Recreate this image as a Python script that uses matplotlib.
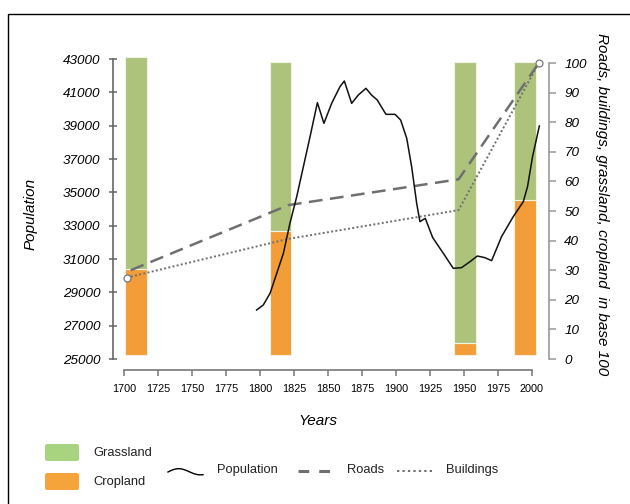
import numpy as np
import matplotlib
matplotlib.use("Agg")
import matplotlib.pyplot as plt
from matplotlib.patches import Rectangle, FancyBboxPatch
from matplotlib.lines import Line2D

plt.rcParams['font.family'] = ['Liberation Sans', 'DejaVu Sans']

# ---------------- data ----------------
bar_years = [1709, 1815, 1951, 1995]
cropland = [29.0, 41.8, 4.2, 52.4]
grassland = [71.6, 57.2, 95.0, 46.7]

roads_years = [1705, 1821, 1946, 2005]
roads = [30.0, 52.0, 60.7, 100.0]

buildings_years = [1702, 1820, 1946, 2005]
buildings = [27.5, 40.5, 50.3, 100.0]

pop_years = [1797.5, 1802.4, 1807.4, 1812.3, 1817.2, 1822.0, 1827.0, 1831.9,
             1836.8, 1842.2, 1847.0, 1852.7, 1858.8, 1862.0, 1867.4, 1872.3,
             1877.9, 1882.0, 1886.2, 1892.6, 1899.3, 1903.4, 1907.9, 1911.5,
             1915.2, 1917.6, 1921.5, 1927.0, 1934.8, 1942.1, 1948.2, 1954.4,
             1959.8, 1965.4, 1970.3, 1977.6, 1986.2, 1993.6, 1996.7, 2000.4,
             2005.4]
population = [27940, 28240, 28940, 30140, 31340, 33140, 34740, 36540,
              38340, 40380, 39140, 40340, 41340, 41680, 40340, 40840,
              41240, 40840, 40540, 39680, 39680, 39340, 38240, 36540,
              34340, 33240, 33440, 32280, 31340, 30440, 30480, 30840,
              31180, 31080, 30900, 32340, 33540, 34440, 35340, 37140,
              38980]

x_ticks = [1700, 1725, 1750, 1775, 1800, 1825, 1850, 1875, 1900, 1925, 1950, 1975, 2000]
left_ticks = [25000, 27000, 29000, 31000, 33000, 35000, 37000, 39000, 41000, 43000]
right_ticks = [0, 10, 20, 30, 40, 50, 60, 70, 80, 90, 100]

# ---------------- styles ----------------
W, H = 630, 504
GREEN_BAR = '#adc37c'
ORANGE_BAR = '#f29d37'
GREEN_LEG = '#a8d47f'
ORANGE_LEG = '#f4a43a'
LINE_GRAY = '#6f6f6f'
BAR_BOTTOM = 1.3

fig = plt.figure(figsize=(W / 100, H / 100), dpi=100)

def fx(x):
    return np.asarray(x) / W

def fy(y):
    return 1 - np.asarray(y) / H

ax_left, ax_right_px, ax_top, ax_bottom = 113, 549, 55, 370
ax = fig.add_axes([fx(ax_left), fy(ax_bottom), (ax_right_px - ax_left) / W,
                   (ax_bottom - ax_top) / H])
ax2 = ax.twinx()

# x scale: 1700 -> 124 px, 2000 -> 532 px
ppy = (532 - 124) / 300.0
ax.set_xlim(1700 - (124 - ax_left) / ppy, 2000 + (ax_right_px - 532) / ppy)
# left: 25000 -> 359, 43000 -> 59
ppl = 300 / 18000.0
ax.set_ylim(25000 - (ax_bottom - 359) / ppl, 43000 + (59 - ax_top) / ppl)
# right: 0 -> 359, 100 -> 63
ppr = (359 - 63) / 100.0
ax2.set_ylim(0 - (ax_bottom - 359) / ppr, 100 + (63 - ax_top) / ppr)

# bars on right axis
ax2.bar(bar_years, cropland, width=16, bottom=BAR_BOTTOM, color=ORANGE_BAR,
        edgecolor='#fbeede', linewidth=0.8, zorder=1)
ax2.bar(bar_years, grassland, width=16,
        bottom=[BAR_BOTTOM + c for c in cropland], color=GREEN_BAR,
        edgecolor='#f0f4e6', linewidth=0.8, zorder=1)

# lines
ax2.plot(roads_years, roads, color=LINE_GRAY, lw=1.8, dashes=(5.5, 3), zorder=3)
ax2.plot(buildings_years, buildings, color=LINE_GRAY, lw=1.4, dashes=(1, 1.2), zorder=3)
ax2.plot([buildings_years[0], buildings_years[-1]], [buildings[0], buildings[-1]],
         ls='none', marker='o', ms=5, mfc='white', mec='#777777', mew=0.9, zorder=5,
         clip_on=False)
ax.plot(pop_years, population, color='#111111', lw=1.1, zorder=4)
ax.set_zorder(ax2.get_zorder() + 1)
ax.patch.set_visible(False)

# spines
for a in (ax, ax2):
    a.spines['top'].set_visible(False)
ax.spines['right'].set_visible(False)
ax2.spines['left'].set_visible(False)
ax2.spines['bottom'].set_visible(False)
ax.spines['left'].set_bounds(25000, 43000)
ax.spines['left'].set_color('#666666')
ax.spines['bottom'].set_bounds(1700, 2000)
ax.spines['bottom'].set_color('#777777')
ax2.spines['right'].set_bounds(0, 100)
ax2.spines['right'].set_color('#999999')
for s in (ax.spines['left'], ax.spines['bottom'], ax2.spines['right']):
    s.set_linewidth(1.2)

ax.set_xticks(x_ticks)
ax.set_xticklabels([str(t) for t in x_ticks], fontsize=7.8)
ax.tick_params(axis='x', direction='out', length=4, width=1.1, color='#777777', pad=6)
ax.set_yticks(left_ticks)
ax.set_yticklabels([str(t) for t in left_ticks], fontsize=9.7, style='italic')
ax.tick_params(axis='y', direction='inout', length=6, width=1.1, color='#666666', pad=6)
ax2.set_yticks(right_ticks)
ax2.set_yticklabels([str(t) for t in right_ticks], fontsize=9.7, style='italic')
ax2.tick_params(axis='y', direction='out', length=5, width=1.1, color='#999999', pad=6)

ax.set_xlabel('Years', fontsize=11, style='italic')
ax.xaxis.set_label_coords((318 - ax_left) / (ax_right_px - ax_left),
                          (ax_bottom - 414) / (ax_bottom - ax_top))
ax.set_ylabel('Population', fontsize=11, style='italic')
ax.yaxis.set_label_coords((38 - ax_left) / (ax_right_px - ax_left),
                          (ax_bottom - 214) / (ax_bottom - ax_top))
ax2.set_ylabel('Roads, buildings, grassland, cropland  in base 100', fontsize=11,
               style='italic', rotation=270, va='center')
ax2.yaxis.set_label_coords((602 - ax_left) / (ax_right_px - ax_left),
                           (ax_bottom - 204) / (ax_bottom - ax_top))

# outer frame
fig.patches.append(Rectangle((fx(8), fy(H + 20)), 2, fy(14) - fy(H + 20),
                             transform=fig.transFigure, fill=False,
                             edgecolor='black', lw=1.0))

# legend
fig.patches.append(FancyBboxPatch((fx(45), fy(461)), fx(34), (19 - 2) / H,
                                  boxstyle='round,pad=0,rounding_size=0.004',
                                  transform=fig.transFigure, facecolor=GREEN_LEG,
                                  edgecolor='none'))
fig.patches.append(FancyBboxPatch((fx(45), fy(490)), fx(34), (19 - 2) / H,
                                  boxstyle='round,pad=0,rounding_size=0.004',
                                  transform=fig.transFigure, facecolor=ORANGE_LEG,
                                  edgecolor='none'))
fig.text(fx(93), fy(453), 'Grassland', fontsize=9.3, va='center', ha='left', color='#222222')
fig.text(fx(93), fy(482), 'Cropland', fontsize=9.3, va='center', ha='left', color='#222222')

t = np.linspace(0, 1, 40)
wx = 168 + 35 * t
wy = 472 - 3.5 * np.sin(np.pi * 1.6 * t) * (1 - 0.2 * t)
fig.lines.append(Line2D(fx(wx), fy(wy), transform=fig.transFigure, color='black', lw=1.0))
fig.text(fx(217), fy(470), 'Population', fontsize=9.3, va='center', ha='left', color='#222222')

fig.lines.append(Line2D([fx(298), fx(330)], [fy(471), fy(471)], transform=fig.transFigure,
                        color=LINE_GRAY, lw=2.2, dashes=(3.5, 3.3)))
fig.text(fx(347), fy(470), 'Roads', fontsize=9.3, va='center', ha='left', color='#222222')

fig.lines.append(Line2D([fx(397), fx(434)], [fy(471), fy(471)], transform=fig.transFigure,
                        color=LINE_GRAY, lw=1.4, dashes=(1.2, 1.6)))
fig.text(fx(446), fy(470), 'Buildings', fontsize=9.3, va='center', ha='left', color='#222222')

fig.savefig('out.png', dpi=100)
